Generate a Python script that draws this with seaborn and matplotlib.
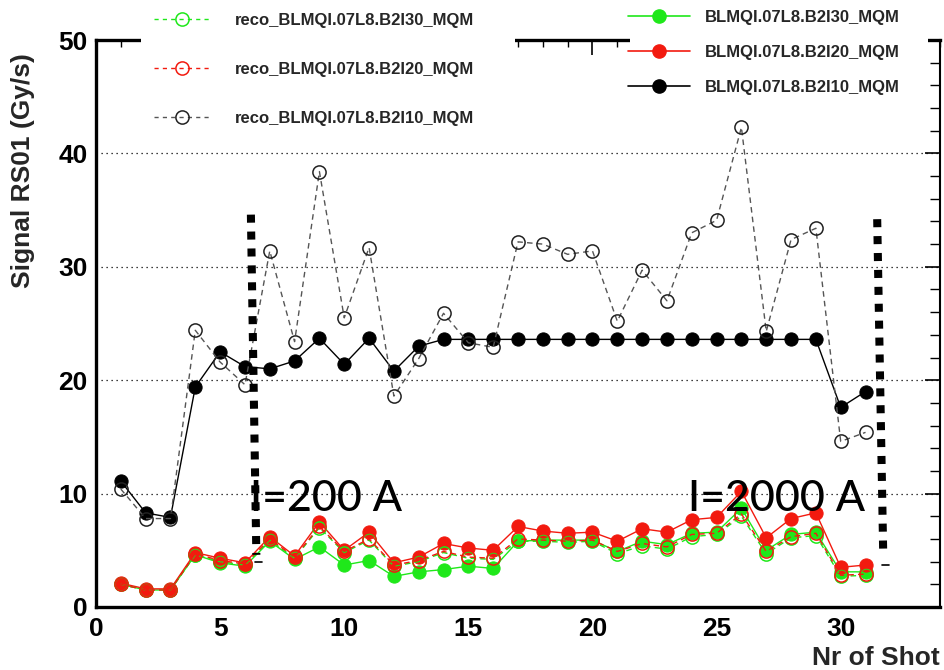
import matplotlib
matplotlib.use("Agg")
import matplotlib.pyplot as plt
import seaborn as sns
import pandas as pd
from matplotlib.lines import Line2D
from matplotlib.patches import Rectangle
from matplotlib.ticker import MultipleLocator

# ---------------- data ----------------
shots = list(range(1, 32))

sig_i30 = [2.0, 1.5, 1.5, 4.6, 3.9, 3.6, 5.8, 4.2, 5.3, 3.7, 4.1, 2.7, 3.1, 3.3, 3.6, 3.4,
           5.8, 5.9, 5.9, 5.9, 4.9, 5.8, 5.5, 6.5, 6.6, 8.7, 5.0, 6.4, 6.6, 3.1, 3.1]
sig_i20 = [2.1, 1.6, 1.6, 4.8, 4.3, 3.9, 6.2, 4.5, 7.5, 5.0, 6.6, 3.9, 4.4, 5.6, 5.2, 5.0,
           7.1, 6.7, 6.5, 6.6, 5.8, 6.9, 6.6, 7.7, 7.9, 10.2, 6.1, 7.8, 8.3, 3.5, 3.7]
sig_i10 = [11.1, 8.3, 7.9, 19.4, 22.5, 21.2, 21.0, 21.7, 23.7, 21.4, 23.7, 20.8, 23.0, 23.6,
           23.6, 23.6, 23.6, 23.6, 23.6, 23.6, 23.6, 23.6, 23.6, 23.6, 23.6, 23.6, 23.6, 23.6, 23.6,
           17.6, 19.0]

reco_i30 = [2.0, 1.5, 1.5, 4.6, 4.0, 3.7, 5.9, 4.3, 7.0, 4.8, 5.9, 3.6, 4.0, 4.8, 4.3, 4.2,
            5.8, 5.8, 5.7, 5.8, 4.7, 5.4, 5.1, 6.2, 6.4, 8.0, 4.7, 6.1, 6.3, 2.7, 2.8]
reco_i20 = [2.0, 1.5, 1.5, 4.7, 4.1, 3.8, 6.0, 4.4, 7.1, 4.9, 6.0, 3.7, 4.1, 4.9, 4.4, 4.3,
            6.0, 5.9, 5.8, 5.9, 4.9, 5.6, 5.3, 6.4, 6.5, 8.2, 4.9, 6.2, 6.5, 2.8, 2.9]
reco_i10 = [10.4, 7.8, 7.8, 24.4, 21.6, 19.6, 31.4, 23.4, 38.4, 25.5, 31.7, 18.6, 21.9, 25.9,
            23.3, 22.9, 32.2, 32.0, 31.1, 31.4, 25.2, 29.7, 27.0, 33.0, 34.1, 42.3, 24.3, 32.4,
            33.4, 14.6, 15.4]

reco_labels = ["reco_BLMQI.07L8.B2I30_MQM", "reco_BLMQI.07L8.B2I20_MQM", "reco_BLMQI.07L8.B2I10_MQM"]
sig_labels = ["BLMQI.07L8.B2I30_MQM", "BLMQI.07L8.B2I20_MQM", "BLMQI.07L8.B2I10_MQM"]

annot_text = ["I=200 A", "I=2000 A"]

# ---------------- style ----------------
GREEN = "#1fe81a"
RED = "#f21a0f"
BLACK = "#000000"
GRAY = "#555555"

sns.set_theme(style="white")
plt.rcParams['font.family'] = ['Liberation Sans', 'DejaVu Sans']

fig = plt.figure(figsize=(9.44, 6.70), dpi=100)
ax = fig.add_axes([96 / 944, 63 / 670, 844 / 944, 567 / 670])

MS = 9.5
# solid measured series
for vals, col in [(sig_i30, GREEN), (sig_i20, RED), (sig_i10, BLACK)]:
    sns.lineplot(x=shots, y=vals, ax=ax, color=col, lw=1.0, marker='o', ms=MS,
                 mfc=col, mec=col, legend=False, zorder=3)
# reco series (dashed, open circles)
for vals, col in [(reco_i30, GREEN), (reco_i20, RED), (reco_i10, GRAY)]:
    mec = '#222222' if col == GRAY else col
    sns.lineplot(x=shots, y=vals, ax=ax, color=col, lw=1.0, linestyle=(0, (4, 3)),
                 marker='o', ms=MS, mfc='none', mec=mec, mew=1.1, legend=False, zorder=4)

ax.set_xlim(0, 34)
ax.set_ylim(0, 50)
ax.xaxis.set_major_locator(MultipleLocator(5))
ax.xaxis.set_minor_locator(MultipleLocator(1))
ax.yaxis.set_major_locator(MultipleLocator(10))
ax.yaxis.set_minor_locator(MultipleLocator(2))
ax.tick_params(which='both', direction='in', top=True, right=True, colors='black')
ax.tick_params(axis='x', which='major', length=11, width=1.2, labelsize=19, pad=7)
ax.tick_params(axis='x', which='minor', length=5, width=1.0)
ax.tick_params(axis='y', which='major', length=11, width=1.2, labelsize=19, pad=6)
ax.tick_params(axis='y', which='minor', length=7, width=1.0)
for lab in ax.get_xticklabels() + ax.get_yticklabels():
    lab.set_fontweight('bold')

ax.yaxis.grid(True, linestyle=(0, (1, 3)), color='black', lw=0.9)
ax.xaxis.grid(False)
for side, sp in ax.spines.items():
    sp.set_color('black')
    sp.set_linewidth(2.4 if side != 'right' else 1.5)

ax.set_ylabel("Signal RS01 (Gy/s)", fontsize=19, fontweight='bold')
ax.yaxis.set_label_coords(-0.072, 0.77)
ax.set_xlabel("Nr of Shot", fontsize=19, fontweight='bold')
ax.xaxis.set_label_coords(1.0, -0.068)
ax.xaxis.label.set_horizontalalignment('right')

# white areas behind the legends, hiding the top frame there
for x0, x1, h in [(141, 515, 136), (630, 928, 108)]:
    ax.add_patch(Rectangle((x0 / 944, 1 - h / 670), (x1 - x0) / 944, h / 670,
                           transform=fig.transFigure, facecolor='white', edgecolor='none',
                           clip_on=False, zorder=8))

# ---------------- annotations ----------------
ax.plot([6.24, 6.46], [34.6, 4.6], color='black', lw=5.8, linestyle=(0, (1, 1.1)),
        dash_capstyle='butt', zorder=6)
ax.plot([6.42, 6.68], [4.0, 4.0], color='black', lw=1.2, zorder=6)
ax.plot([31.47, 31.71], [34.2, 5.0], color='black', lw=5.8, linestyle=(0, (1, 1.1)),
        dash_capstyle='butt', zorder=6)
ax.plot([31.68, 31.95], [3.7, 3.7], color='black', lw=1.2, zorder=6)
annot_font = dict(fontsize=31, family=['Lato', 'DejaVu Sans'], fontweight='medium',
                  color='black', va='baseline', ha='left', zorder=7)
ax.text(6.2, 8.45, annot_text[0], **annot_font)
ax.text(23.85, 8.45, annot_text[1], **annot_font)

# ---------------- legends ----------------
reco_handles = [Line2D([], [], color=c, lw=1.0, linestyle=(0, (3, 3)), marker='o', ms=MS,
                       mfc='none', mec=('#222222' if c == GRAY else c), mew=1.1)
                for c in (GREEN, RED, GRAY)]
sig_handles = [Line2D([], [], color=c, lw=1.2, marker='o', ms=MS, mfc=c, mec=c)
               for c in (GREEN, RED, BLACK)]

leg_font = {'family': ['Liberation Sans Narrow', 'Liberation Sans', 'DejaVu Sans'],
            'weight': 'bold', 'size': 12}
leg1 = ax.legend(reco_handles, reco_labels, loc='upper left',
                 bbox_to_anchor=(141 / 944, 1.0), bbox_transform=fig.transFigure,
                 prop=leg_font, frameon=False, labelspacing=2.05, handlelength=3.4,
                 handletextpad=1.5, borderpad=0.75, borderaxespad=0)
leg1.set_zorder(10)
ax.add_artist(leg1)
leg2 = ax.legend(sig_handles, sig_labels, loc='upper left',
                 bbox_to_anchor=(618 / 944, 1.0), bbox_transform=fig.transFigure,
                 prop=leg_font, frameon=False, labelspacing=1.2, handlelength=3.7,
                 handletextpad=0.9, borderpad=0.6, borderaxespad=0)
leg2.set_zorder(10)

fig.savefig("out.png", dpi=100)
